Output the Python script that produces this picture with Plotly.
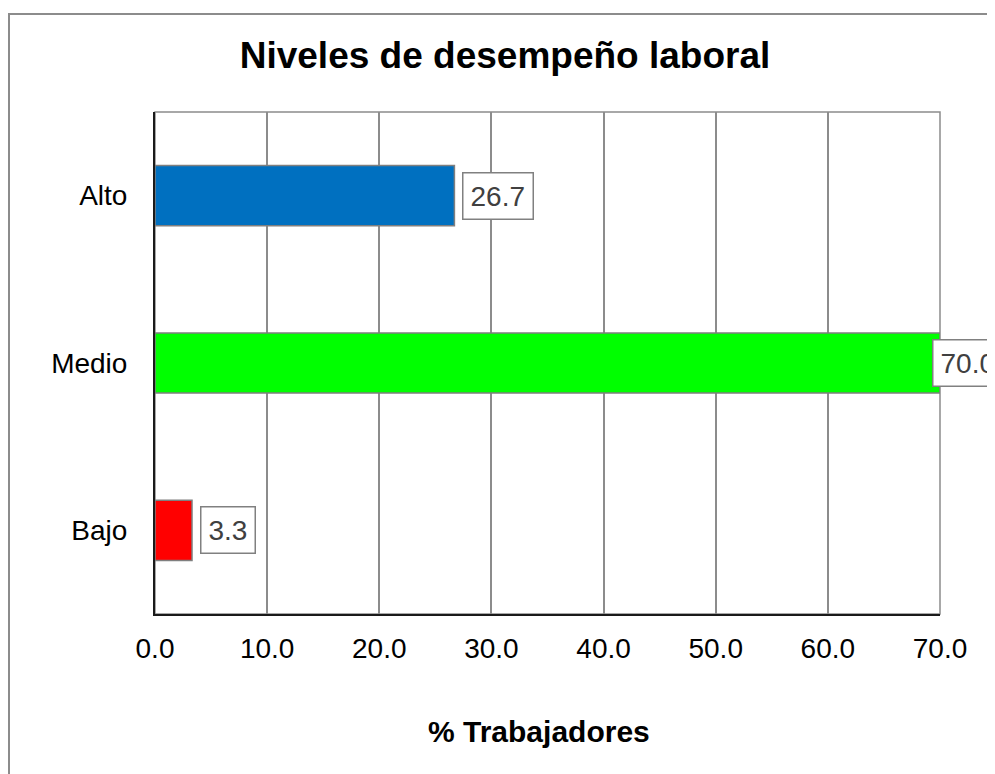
import plotly.graph_objects as go

categories = ['Bajo', 'Medio', 'Alto']
values = [3.3, 70.0, 26.7]
colors = ['#FF0000', '#00FF00', '#0070C0']
tick_vals = [0, 10, 20, 30, 40, 50, 60, 70]
tick_text = ['0.0', '10.0', '20.0', '30.0', '40.0', '50.0', '60.0', '70.0']

font_family = 'Liberation Sans, Arial, sans-serif'
grid_gray = '#8c8c8c'

fig = go.Figure()

fig.add_trace(go.Bar(
    y=categories,
    x=values,
    orientation='h',
    marker=dict(color=colors, line=dict(color='#7f7f7f', width=1.5)),
    hoverinfo='x+y',
))

# boxed data labels like the Excel original
for cat, v in zip(categories, values):
    fig.add_annotation(
        x=v, y=cat, xref='x', yref='y',
        text=f'{v:.1f}',
        showarrow=False,
        xanchor='left',
        xshift=-8 if v == max(values) else 8,
        font=dict(family=font_family, size=28, color='#404040'),
        bgcolor='white',
        bordercolor='#808080',
        borderwidth=1.5,
        borderpad=7,
    )

# axis title
fig.add_annotation(
    x=0.489, y=-0.235, xref='paper', yref='paper',
    text='<b>% Trabajadores</b>', showarrow=False,
    xanchor='center', yanchor='middle',
    font=dict(family=font_family, size=30, color='black'),
)

# plot area frame (gray) and outer chart border
fig.add_shape(type='rect', xref='paper', yref='paper', x0=0, x1=1, y0=0, y1=1,
              line=dict(color=grid_gray, width=1.5), layer='below')
fig.add_shape(type='rect', xref='paper', yref='paper', x0=-0.186, x1=1.2, y0=-0.5, y1=1.195,
              line=dict(color='#8c8c8c', width=2), layer='below')

# the page adds an 8px body margin, so margins are shifted to compensate
fig.update_layout(
    width=995, height=774,
    margin=dict(l=147, r=63, t=104, b=168),
    paper_bgcolor='white',
    plot_bgcolor='white',
    showlegend=False,
    bargap=0.64,
    title=dict(
        text='<b>Niveles de desempeño laboral</b>',
        x=(505 - 8) / 995, xref='container', xanchor='center',
        y=1 - 47 / 774, yref='container', yanchor='middle',
        font=dict(family=font_family, size=37, color='black'),
    ),
    xaxis=dict(
        range=[0, 70],
        tickvals=tick_vals,
        ticktext=tick_text,
        showgrid=True,
        gridcolor=grid_gray,
        gridwidth=1.5,
        zeroline=False,
        showline=True,
        linecolor='#1a1a1a',
        linewidth=2,
        ticks='',
        ticklabelstandoff=8,
        tickfont=dict(family=font_family, size=28, color='black'),
        fixedrange=True,
    ),
    yaxis=dict(
        showgrid=False,
        zeroline=False,
        showline=True,
        linecolor='#1a1a1a',
        linewidth=2,
        ticks='',
        ticklabelstandoff=20,
        tickfont=dict(family=font_family, size=28, color='black'),
        fixedrange=True,
    ),
)

fig.write_html('out.html')
